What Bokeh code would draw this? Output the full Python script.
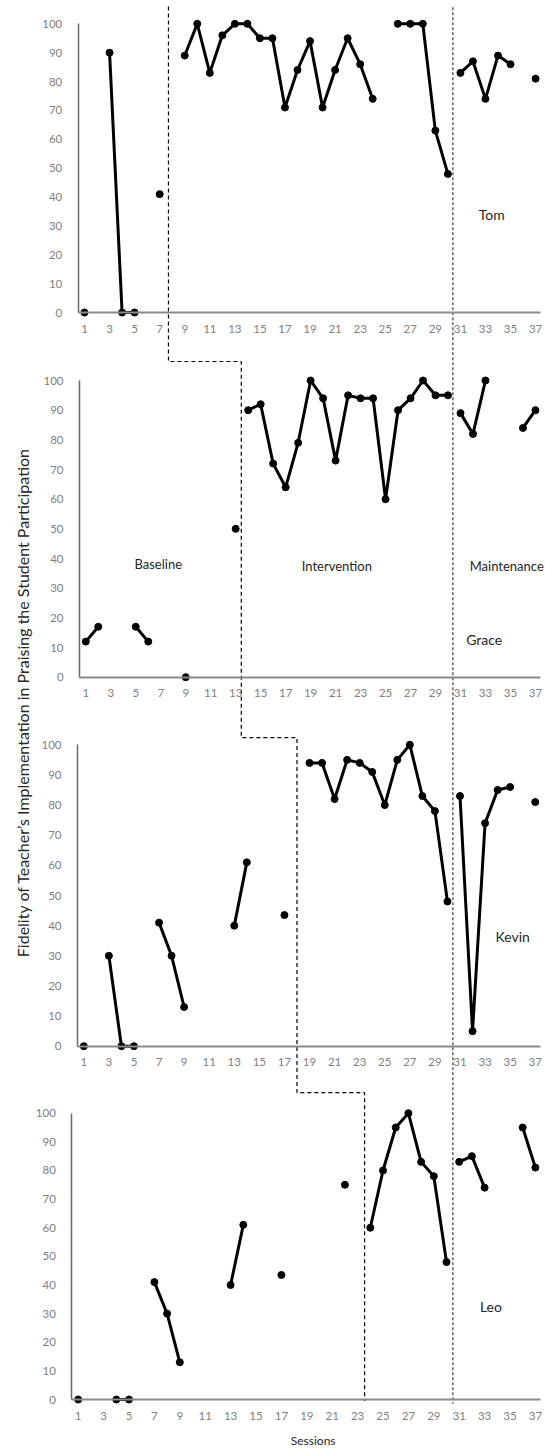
import math
from bokeh.plotting import figure
from bokeh.models import Range1d, LinearAxis, FixedTicker, Label
from bokeh.embed import file_html
from bokeh.resources import INLINE

nan = float("nan")

# ---------------- data ----------------
x_ticks = list(range(1, 38, 2))
y_ticks = list(range(0, 101, 10))

students = ["Tom", "Grace", "Kevin", "Leo"]

tom_base_x = [1, 2, 3, 4, 5, 6, 7]
tom_base_y = [0, nan, 90, 0, 0, nan, 41]
tom_int_x = list(range(9, 31))
tom_int_y = [89, 100, 83, 96, 100, 100, 95, 95, 71, 84, 94, 71, 84, 95, 86, 74, nan, 100, 100, 100, 63, 48]
tom_mnt_x = list(range(31, 38))
tom_mnt_y = [83, 87, 74, 89, 86, nan, 81]

grace_base_x = list(range(1, 14))
grace_base_y = [12, 17, nan, nan, 17, 12, nan, nan, 0, nan, nan, nan, 50]
grace_int_x = list(range(14, 31))
grace_int_y = [90, 92, 72, 64, 79, 100, 94, 73, 95, 94, 94, 60, 90, 94, 100, 95, 95]
grace_mnt_x = list(range(31, 38))
grace_mnt_y = [89, 82, 100, nan, nan, 84, 90]

kevin_base_x = list(range(1, 18))
kevin_base_y = [0, nan, 30, 0, 0, nan, 41, 30, 13, nan, nan, nan, 40, 61, nan, nan, 43.5]
kevin_int_x = list(range(19, 31))
kevin_int_y = [94, 94, 82, 95, 94, 91, 80, 95, 100, 83, 78, 48]
kevin_mnt_x = list(range(31, 38))
kevin_mnt_y = [83, 5, 74, 85, 86, nan, 81]

leo_base_x = list(range(1, 23))
leo_base_y = [0, nan, nan, 0, 0, nan, 41, 30, 13, nan, nan, nan, 40, 61, nan, nan, 43.5, nan, nan, nan, nan, 75]
leo_int_x = list(range(24, 31))
leo_int_y = [60, 80, 95, 100, 83, 78, 48]
leo_mnt_x = list(range(31, 38))
leo_mnt_y = [83, 85, 74, nan, nan, 95, 81]

series = [
    [(tom_base_x, tom_base_y), (tom_int_x, tom_int_y), (tom_mnt_x, tom_mnt_y)],
    [(grace_base_x, grace_base_y), (grace_int_x, grace_int_y), (grace_mnt_x, grace_mnt_y)],
    [(kevin_base_x, kevin_base_y), (kevin_int_x, kevin_int_y), (kevin_mnt_x, kevin_mnt_y)],
    [(leo_base_x, leo_base_y), (leo_int_x, leo_int_y), (leo_mnt_x, leo_mnt_y)],
]

phase_change = [7.7, 13.45, 18.0, 23.55]   # baseline -> intervention (session units)
maintenance_change = 30.4                  # intervention -> maintenance

# ---------------- layout ----------------
W, H = 545, 1450
OX, OY = 0, 0
# picture geometry of each panel: x of session 1, px per session, y of 0 %, y of 100 %
GEOM = [(84.0, 12.53, 312.0, 23.3),
        (85.3, 12.49, 676.7, 380.0),
        (83.3, 12.54, 1045.7, 744.3),
        (77.7, 12.70, 1399.0, 1112.7)]


def page_x(i, s):
    x1, dx, _, _ = GEOM[i]
    return x1 + (s - 1) * dx


def page_y(i, v):
    _, _, y0, y100 = GEOM[i]
    return y0 - v * (y0 - y100) / 100.0


def unit_x(i, px):
    x1, dx, _, _ = GEOM[i]
    return 1 + (px - x1) / dx


def unit_y(i, py):
    _, _, y0, y100 = GEOM[i]
    return (y0 - py) / ((y0 - y100) / 100.0)


def xr(i):
    return Range1d(unit_x(i, OX), unit_x(i, OX + W))


def yr(i):
    return Range1d(unit_y(i, OY + H), unit_y(i, OY))


p = figure(width=W, height=H, x_range=xr(0), y_range=yr(0),
           x_axis_type=None, y_axis_type=None,
           toolbar_location=None, output_backend="svg",
           min_border=0, min_border_left=0, min_border_right=0,
           min_border_top=0, min_border_bottom=0,
           outline_line_color=None, background_fill_color="white",
           border_fill_color="white")

names = []
for i in range(4):
    if i == 0:
        names.append(("default", "default"))
    else:
        xn, yn = f"x{i}", f"y{i}"
        p.extra_x_ranges[xn] = xr(i)
        p.extra_y_ranges[yn] = yr(i)
        names.append((xn, yn))

FONT = "Lato"
TICK_COLOR = "#7f7f7f"

for i in range(4):
    xn, yn = names[i]
    xax = LinearAxis(x_range_name=xn, y_range_name=yn, fixed_location=0,
                     bounds=(0.5, 37.4), ticker=FixedTicker(ticks=x_ticks),
                     major_tick_line_color=None, minor_tick_line_color=None,
                     axis_line_color="#8a8a8a", axis_line_width=2,
                     major_label_text_font=FONT, major_label_text_font_size="11.5px",
                     major_label_text_color=TICK_COLOR, major_label_standoff=6)
    p.add_layout(xax, "below")
    yax = LinearAxis(x_range_name=xn, y_range_name=yn, fixed_location=0.5,
                     bounds=(0, 100), ticker=FixedTicker(ticks=y_ticks),
                     major_tick_line_color=None, minor_tick_line_color=None,
                     axis_line_color="#6a6a6a", axis_line_width=1.5,
                     major_label_text_font=FONT, major_label_text_font_size="11.5px",
                     major_label_text_color=TICK_COLOR, major_label_standoff=10)
    p.add_layout(yax, "left")

    for xs, ys in series[i]:
        p.line(xs, ys, x_range_name=xn, y_range_name=yn,
               line_color="black", line_width=3)
        p.scatter(xs, ys, x_range_name=xn, y_range_name=yn,
                  size=7, color="black")

# ---------------- phase-change lines ----------------
step_level = [106.0, 106.4, 102.4, 107.2]   # top of first line / connector heights
pts = []
prev = None
for i in range(4):
    px = page_x(i, phase_change[i])
    if i == 0:
        pts.append((px, page_y(0, step_level[0])))
    else:
        pts.append((prev, page_y(i, step_level[i])))
        pts.append((px, page_y(i, step_level[i])))
    prev = px
pts.append((prev, page_y(3, -0.5)))
p.line([unit_x(0, a) for a, _ in pts], [unit_y(0, b) for _, b in pts],
       line_color="black", line_width=1.2, line_dash="4 3")

mx = unit_x(0, page_x(0, maintenance_change))
p.line([mx, mx], [105.7, unit_y(0, page_y(3, -1.5))],
       line_color="#6f6f6f", line_width=1.6, line_dash="3 2")

# ---------------- texts ----------------
def add_label(i, x, y, text, size, align="center"):
    xn, yn = names[i]
    p.add_layout(Label(x=x, y=y, x_range_name=xn, y_range_name=yn, text=text,
                       text_font=FONT, text_font_size=size, text_color="#262626",
                       text_align=align, text_baseline="middle"))

add_label(0, 33.5, 33.8, "Tom", "14px")
add_label(1, 32.9, 12.6, "Grace", "14px")
add_label(2, 35.2, 36.5, "Kevin", "14px")
add_label(3, 33.5, 32.6, "Leo", "14px")
add_label(1, 6.8, 38.3, "Baseline", "13px")
add_label(1, 21.1, 37.4, "Intervention", "13px")
add_label(1, 31.74, 37.6, "Maintenance", "13px", align="left")
add_label(3, 19.5, -14.3, "Sessions", "12px")

p.add_layout(Label(x=unit_x(0, 22), y=unit_y(0, 702), angle=math.pi / 2,
                   text="Fidelity of Teacher\u2019s Implementation in Praising the Student Participation",
                   text_font=FONT, text_font_size="16px", text_color="#262626",
                   text_align="center", text_baseline="middle"))

open("out.html", "w").write(file_html(p, INLINE))
